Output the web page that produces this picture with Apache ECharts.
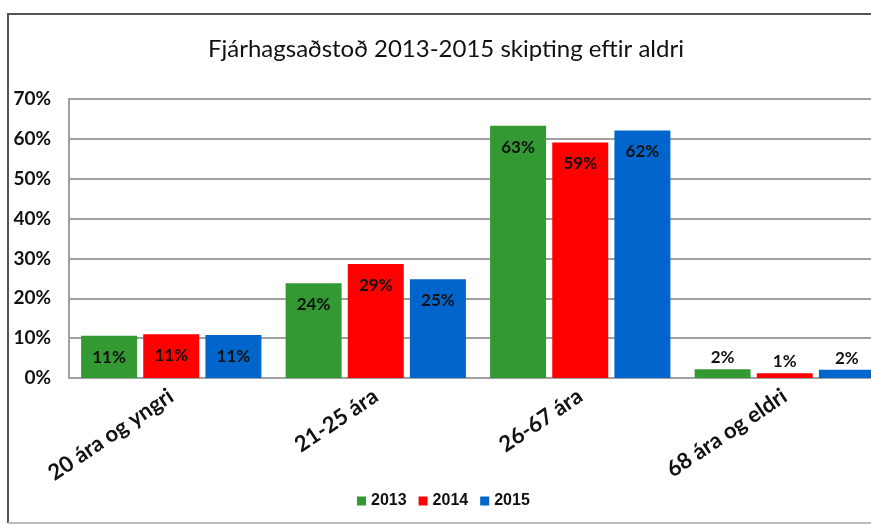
<html>
  <head>
    <meta charset="utf-8">
    <script src="https://cdnjs.cloudflare.com/ajax/libs/echarts/6.0.0/echarts.min.js"></script>
    <style>
      body { margin: 0; background-color: #fff; overflow: hidden; }
      #chart { width: 871px; height: 525px; }
    </style>
  </head>
  <body>
    <div id="chart"></div>
  </body>
  <script>
    var categories = ['20 ára og yngri', '21-25 ára', '26-67 ára', '68 ára og eldri'];
    var years = ['2013', '2014', '2015'];
    var colors = ['#339933', '#ff0000', '#0066cc'];
    var v2013 = [10.6, 23.8, 63.3, 2.2];
    var v2014 = [11.0, 28.6, 59.1, 1.2];
    var v2015 = [10.8, 24.8, 62.1, 2.1];
    var yTicks = [0, 10, 20, 30, 40, 50, 60, 70];

    var font = 'Lato';

    function makeSeries(name, values, color) {
        return {
            name: name,
            type: 'bar',
            barWidth: 56,
            barGap: '11%',
            itemStyle: { color: color },
            label: {
                show: true,
                position: 'insideTop',
                distance: 13,
                fontFamily: font,
                fontWeight: 'bold',
                fontSize: 17,
                color: '#111',
                formatter: function (p) { return Math.round(p.value) + '%'; }
            },
            // small bars carry their label above
            data: values.map(function (v) {
                if (v < 5) {
                    return { value: v, label: { position: 'top', distance: 3 } };
                }
                return v;
            })
        };
    }

    var chart = echarts.init(document.getElementById('chart'));
    var option = {
        animation: false,
        title: {
            text: 'Fjárhagsaðstoð 2013-2015 skipting eftir aldri',
            left: 441,
            textAlign: 'center',
            top: 32,
            textStyle: { fontFamily: font, fontWeight: 'normal', fontSize: 24, color: '#111' }
        },
        legend: {
            data: years,
            top: 488,
            left: 352,
            itemWidth: 9,
            itemHeight: 9,
            itemGap: 12,
            icon: 'rect',
            textStyle: { fontFamily: 'Liberation Sans Narrow, Arial Narrow, sans-serif', fontSize: 16, fontWeight: 'bold', color: '#111' }
        },
        // outer frame: left and top edges, faint bottom (right edge lies off the page)
        graphic: [{
            type: 'line',
            shape: { x1: 8, y1: 14, x2: 871, y2: 14 },
            style: { stroke: '#555', lineWidth: 2 },
            silent: true
        }, {
            type: 'line',
            shape: { x1: 8, y1: 13, x2: 8, y2: 523 },
            style: { stroke: '#555', lineWidth: 2 },
            silent: true
        }, {
            type: 'line',
            shape: { x1: 8, y1: 523, x2: 871, y2: 523 },
            style: { stroke: '#bbb', lineWidth: 2 },
            silent: true
        }],
        grid: { left: 69, right: -16, top: 99, bottom: 147, outerBoundsMode: 'none', containLabel: false },
        xAxis: {
            type: 'category',
            data: categories,
            axisTick: { show: false },
            axisLine: { lineStyle: { color: '#a0a0a0', width: 2 } },
            axisLabel: {
                rotate: 34,
                margin: 16,
                fontFamily: font,
                fontWeight: 'bold',
                fontSize: 22,
                color: '#111'
            }
        },
        yAxis: {
            type: 'value',
            min: yTicks[0],
            max: yTicks[yTicks.length - 1],
            interval: 10,
            axisLine: { show: true, lineStyle: { color: '#a0a0a0', width: 2 } },
            axisTick: { show: false },
            splitLine: { lineStyle: { color: '#a0a0a0', width: 2 } },
            axisLabel: {
                margin: 18,
                fontFamily: font,
                fontWeight: 'bold',
                fontSize: 19,
                color: '#111',
                formatter: '{value}%'
            }
        },
        series: [
            makeSeries(years[0], v2013, colors[0]),
            makeSeries(years[1], v2014, colors[1]),
            makeSeries(years[2], v2015, colors[2])
        ]
    };
    chart.setOption(option);
  </script>
</html>
